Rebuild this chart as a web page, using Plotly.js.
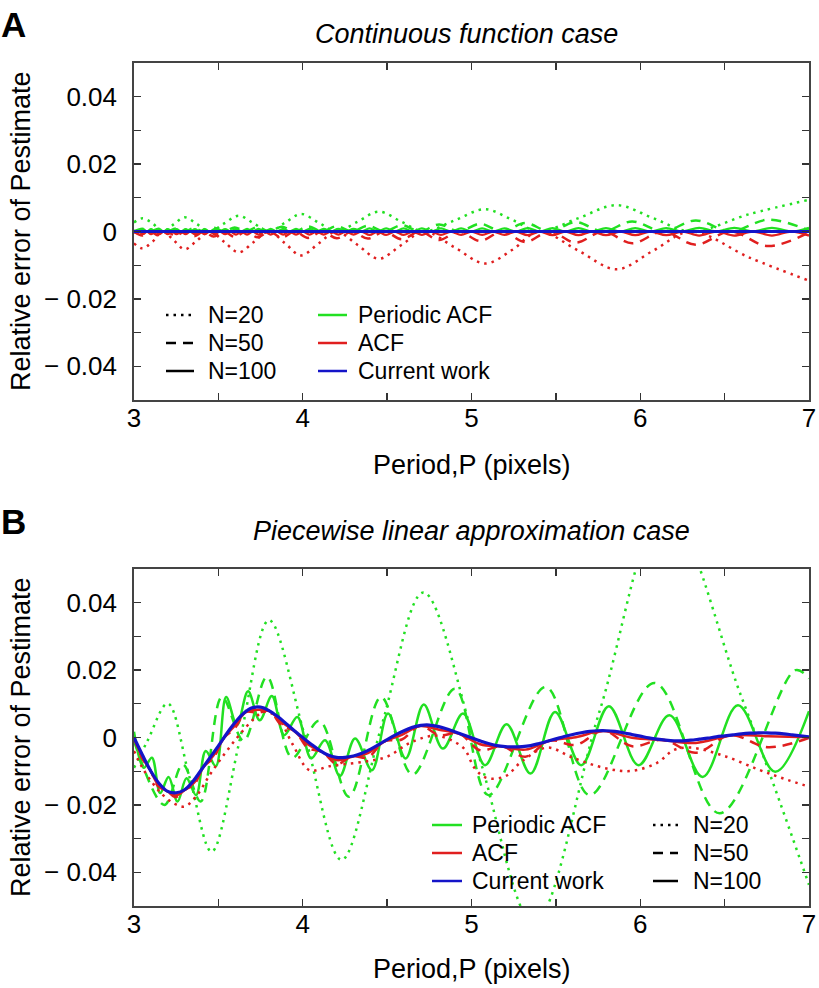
<!DOCTYPE html>
<html><head><meta charset="utf-8">
<script src="https://cdn.plot.ly/plotly-3.0.1.min.js"></script>
<style>html,body{margin:0;padding:0;background:#fff;}#chart{width:819px;height:988px;}</style>
</head><body><div id="chart"></div>
<script>
// ---------- ticks / labels ----------
const xTickVals = [3,3.5,4,4.5,5,5.5,6,6.5,7];
const xTickText = ['3','','4','','5','','6','','7'];
const yTickVals = [-0.04,-0.03,-0.02,-0.01,0,0.01,0.02,0.03,0.04];
const yTickText = ['\u2212 0.04','','\u2212 0.02','','0','','0.02','','0.04'];
const methodNames = ['Periodic ACF','ACF','Current work'];
const sizeNames = ['N=20','N=50','N=100'];
const panelTitles = ['Continuous function case','Piecewise linear approximation case'];
const panelLetters = ['A','B'];
const xTitle = 'Period,P (pixels)';
const yTitle = 'Relative error of Pestimate';

// ---------- panel A data ----------
const xA20 = [3.0,3.05,3.11,3.17,3.235,3.30,3.375,3.45,3.535,3.62,3.71,3.80,3.895,3.99,4.095,4.20,4.325,4.45,4.585,4.72,4.90,5.08,5.24,5.40,5.63,5.86,6.08,6.30,6.65,7.0];
const periodicA20 = [0.0027,0.0039,0.0024,0,0.0021,0.0042,0.0021,0,0.0024,0.0047,0.0024,0,0.0026,0.0052,0.0026,0,0.0029,0.0059,0.0029,0,0.0033,0.0066,0.0035,0,0.0039,0.0078,0.0039,0,0.0052,0.0094];
const acfA20 = [-0.0035,-0.0050,-0.0030,0,-0.0026,-0.0053,-0.0026,0,-0.0031,-0.0062,-0.0031,0,-0.0035,-0.0071,-0.0035,0,-0.0040,-0.0081,-0.0040,0,-0.0047,-0.0095,-0.0055,0,-0.0056,-0.0112,-0.0056,0,-0.0078,-0.0146];

const x50 = [3.000,3.049,3.096,3.145,3.195,3.247,3.300,3.356,3.413,3.472,3.534,3.597,3.663,3.731,3.802,3.876,3.953,4.032,4.115,4.202,4.292,4.386,4.484,4.587,4.695,4.808,4.926,5.051,5.181,5.319,5.464,5.618,5.780,5.952,6.135,6.329,6.536,6.757,7.000];
const periodicA50 = [0,0.0008,0,0.0008,0,0.0009,0,0.0010,0,0.0011,0,0.0012,0,0.0013,0,0.0014,0,0.0015,0,0.0016,0,0.0017,0,0.0019,0,0.0021,0,0.0023,0,0.0025,0,0.0028,0,0.0030,0,0.0033,0,0.0035,0.0003];
const acfA50 = [0,-0.0012,0,-0.0012,0,-0.0013,0,-0.0014,0,-0.0015,0,-0.0016,0,-0.0017,0,-0.0018,0,-0.0019,0,-0.0020,0,-0.0021,0,-0.0023,0,-0.0025,0,-0.0028,0,-0.0031,0,-0.0033,0,-0.0035,0,-0.0039,0,-0.0043,-0.0003];

const x100 = [3.000,3.030,3.053,3.077,3.101,3.125,3.150,3.175,3.200,3.226,3.252,3.279,3.306,3.333,3.361,3.390,3.419,3.448,3.478,3.509,3.540,3.571,3.604,3.636,3.670,3.704,3.738,3.774,3.810,3.846,3.884,3.922,3.960,4.000,4.040,4.082,4.124,4.167,4.211,4.255,4.301,4.348,4.396,4.444,4.494,4.545,4.598,4.651,4.706,4.762,4.819,4.878,4.938,5.000,5.063,5.128,5.195,5.263,5.333,5.405,5.480,5.556,5.634,5.714,5.797,5.882,5.970,6.061,6.154,6.250,6.349,6.452,6.557,6.667,6.780,6.897,7.000];
const periodicA100 = [0.0003,
 0,0.0007,0,0.0007,0,0.0007,0,0.0007,0,0.0007,0,0.0007,0,0.0007,0,0.0007,0,0.0007,0,0.0007,
 0,0.0008,0,0.0008,0,0.0008,0,0.0008,0,0.0008,0,0.0008,0,0.0008,0,0.0008,0,0.0008,0,0.0008,
 0,0.0009,0,0.0009,0,0.0009,0,0.0009,0,0.0009,0,0.0009,0,0.0009,0,0.0009,
 0,0.0010,0,0.0010,0,0.0010,0,0.0010,0,0.0010,0,0.0010,
 0,0.0011,0,0.0011,0,0.0011,0,0.0011];
const acfA100 = [-0.0004,
 0,-0.0008,0,-0.0008,0,-0.0008,0,-0.0008,0,-0.0008,0,-0.0008,0,-0.0008,0,-0.0008,0,-0.0008,0,-0.0008,
 0,-0.0009,0,-0.0009,0,-0.0009,0,-0.0009,0,-0.0009,0,-0.0009,0,-0.0009,0,-0.0009,0,-0.0009,0,-0.0009,
 0,-0.0010,0,-0.0010,0,-0.0010,0,-0.0010,0,-0.0010,0,-0.0010,0,-0.0010,0,-0.0010,
 0,-0.0011,0,-0.0011,0,-0.0011,0,-0.0011,0,-0.0011,0,-0.0011,
 0,-0.0012,0,-0.0012,0,-0.0012,0,-0.0012];
const xCurrentA = [3,7];
const currentA = [0,0];

// ---------- panel B data ----------
const xB20periodic = [3.000,3.080,3.200,3.330,3.460,3.630,3.800,4.015,4.230,4.470,4.715,5.040,5.370,5.760,6.150,6.600,7.000];
const periodicB20 = [-0.0090,-0.0010,0.0101,-0.0120,-0.0339,0.0000,0.0348,0.0000,-0.0363,0.0040,0.0430,-0.0050,-0.0550,0.0080,0.0680,0.0120,-0.0437];
const xB50periodic = [3.000,3.180,3.289,3.395,3.521,3.650,3.788,3.937,4.098,4.274,4.464,4.650,4.902,5.100,5.440,5.700,6.085,6.470,6.920,7.000];
const periodicB50 = [-0.0010,-0.0200,-0.0080,-0.0190,0.0120,-0.0010,0.0180,-0.0060,0.0050,-0.0176,0.0120,-0.0110,0.0145,-0.0171,0.0150,-0.0171,0.0162,-0.0225,0.0200,0.0175];
const xB100periodic = [3.000,3.058,3.106,3.155,3.205,3.258,3.311,3.368,3.425,3.485,3.546,3.610,3.676,3.745,3.817,3.890,3.968,4.050,4.132,4.220,4.310,4.410,4.505,4.610,4.717,4.830,4.950,5.080,5.208,5.350,5.495,5.650,5.814,5.990,6.173,6.370,6.579,6.800,7.000];
const periodicB100 = [0.0017,-0.0090,-0.0060,-0.0165,-0.0117,-0.0190,-0.0121,-0.0171,-0.0040,-0.0085,0.0120,0.0037,0.0137,0.0051,0.0123,0.0007,0.0061,-0.0062,-0.0008,-0.0114,-0.0003,-0.0097,0.0071,-0.0062,0.0098,-0.0033,0.0071,-0.0082,0.0039,-0.0107,0.0076,-0.0082,0.0093,-0.0082,0.0066,-0.0117,0.0096,-0.0102,0.0078];

const xB20acf = [3.00,3.05,3.11,3.17,3.235,3.30,3.375,3.45,3.535,3.62,3.71,3.77,3.85,3.94,4.04,4.16,4.36,4.50,4.62,4.72,4.80,4.95,5.02,5.09,5.20,5.30,5.45,5.60,5.80,5.95,6.10,6.20,6.30,6.50,6.70,6.85,7.00];
const acfB20 = [-0.0040,-0.0090,-0.0135,-0.0170,-0.0195,-0.0205,-0.0170,-0.0110,-0.0050,0.0005,0.0055,0.0076,0.0060,-0.0020,-0.0097,-0.0085,-0.0072,-0.0057,-0.0020,0.0000,0.0005,-0.0030,-0.0092,-0.0120,-0.0115,-0.0070,-0.0030,-0.0060,-0.0092,-0.0099,-0.0075,-0.0037,-0.0030,-0.0055,-0.0095,-0.0122,-0.0146];
const acfB50 = [0,-0.0063,-0.0096,-0.0146,-0.0158,-0.0177,-0.0155,-0.0140,-0.0086,-0.0060,0.0000,0.0027,0.0076,0.0073,0.0079,0.0035,0.0019,-0.0032,-0.0042,-0.0079,-0.0056,-0.0059,-0.0011,-0.0006,0.0035,0.0007,0.0012,-0.0038,-0.0026,-0.0057,-0.0009,-0.0022,0.0020,-0.0026,-0.0007,-0.0045,0.0007,-0.0029,-0.0001];
const acfB100 = [0,-0.0059,-0.0097,-0.0142,-0.0159,-0.0172,-0.0156,-0.0134,-0.0087,-0.0053,-0.0001,0.0035,0.0075,0.0082,0.0078,0.0045,0.0018,-0.0021,-0.0043,-0.0067,-0.0057,-0.0046,-0.0012,0.0008,0.0034,0.0023,0.0011,-0.0020,-0.0027,-0.0036,-0.0010,0.0001,0.0019,-0.0001,-0.0008,-0.0016,0.0006,0.0004,0.0001];

const xCurrentB = [3.00,3.05,3.10,3.15,3.20,3.25,3.30,3.35,3.40,3.45,3.50,3.55,3.60,3.65,3.70,3.75,3.80,3.85,3.90,3.95,4.00,4.05,4.10,4.15,4.20,4.25,4.30,4.35,4.40,4.45,4.50,4.55,4.60,4.65,4.70,4.75,4.80,4.85,4.90,4.95,5.00,5.05,5.10,5.15,5.20,5.25,5.30,5.35,5.40,5.45,5.50,5.55,5.60,5.65,5.70,5.75,5.80,5.85,5.90,5.95,6.00,6.05,6.10,6.15,6.20,6.25,6.30,6.35,6.40,6.45,6.50,6.55,6.60,6.65,6.70,6.75,6.80,6.85,6.90,6.95,7.00];
const currentB = [0.0000,-0.0052,-0.0100,-0.0137,-0.0160,-0.0164,-0.0155,-0.0130,-0.0095,-0.0060,-0.0025,0.0012,0.0045,0.0072,0.0088,0.0090,0.0080,0.0063,0.0042,0.0020,0.0000,-0.0020,-0.0038,-0.0052,-0.0059,-0.0059,-0.0055,-0.0047,-0.0035,-0.0021,-0.0006,0.0008,0.0020,0.0030,0.0036,0.0037,0.0033,0.0026,0.0017,0.0008,-0.0001,-0.0010,-0.0018,-0.0024,-0.0027,-0.0028,-0.0027,-0.0024,-0.0018,-0.0011,-0.0004,0.0003,0.0009,0.0014,0.0018,0.0020,0.0020,0.0018,0.0014,0.0009,0.0004,-0.0001,-0.0005,-0.0008,-0.0010,-0.0010,-0.0008,-0.0005,-0.0002,0.0002,0.0005,0.0008,0.0011,0.0013,0.0014,0.0014,0.0013,0.0011,0.0008,0.0005,0.0002];

// ---------- styling ----------
const GREEN = '#22e022', RED = '#e01f1f', BLUE = '#1414c8';
const DOT = '2.5px,5px', DASH = '10px,7px';
const FONT = 'Liberation Sans, Arial, sans-serif';

function line(x, y, color, dash, width, xa, ya, name) {
  return {type:'scatter', mode:'lines', x:x, y:y, name:name, xaxis:xa, yaxis:ya,
    line:{color:color, width:width, dash:dash, shape:'spline', smoothing:1}, hoverinfo:'skip', showlegend:false};
}

const traces = [
  line(xA20, periodicA20, GREEN, DOT, 2.5, 'x', 'y', 'Periodic ACF N=20'),
  line(x50, periodicA50, GREEN, DASH, 2.5, 'x', 'y', 'Periodic ACF N=50'),
  line(x100, periodicA100, GREEN, 'solid', 2.3, 'x', 'y', 'Periodic ACF N=100'),
  line(xA20, acfA20, RED, DOT, 2.5, 'x', 'y', 'ACF N=20'),
  line(x50, acfA50, RED, DASH, 2.5, 'x', 'y', 'ACF N=50'),
  line(x100, acfA100, RED, 'solid', 2.3, 'x', 'y', 'ACF N=100'),
  line(xCurrentA, currentA, BLUE, 'solid', 3, 'x', 'y', 'Current work'),

  line(xB20periodic, periodicB20, GREEN, DOT, 2.5, 'x2', 'y2', 'Periodic ACF N=20'),
  line(xB50periodic, periodicB50, GREEN, DASH, 2.5, 'x2', 'y2', 'Periodic ACF N=50'),
  line(xB100periodic, periodicB100, GREEN, 'solid', 2.5, 'x2', 'y2', 'Periodic ACF N=100'),
  line(xB20acf, acfB20, RED, DOT, 2.5, 'x2', 'y2', 'ACF N=20'),
  line(x50, acfB50, RED, DASH, 2.5, 'x2', 'y2', 'ACF N=50'),
  line(x50, acfB100, RED, 'solid', 2.5, 'x2', 'y2', 'ACF N=100'),
  line(xCurrentB, currentB, BLUE, 'solid', 3.2, 'x2', 'y2', 'Current work')
];

// pixel -> paper helpers (plot area: x 134..809, y 63..906)
const L = 134, R = 809, T = 63, B = 906;
const PX = p => (p - L) / (R - L);
const PY = p => (B - p) / (B - T);

function xaxis(anchor) {
  return {anchor:anchor, domain:[0,1], range:[3,7], tickmode:'array', tickvals:xTickVals, ticktext:xTickText,
    ticks:'inside', ticklen:7, tickwidth:1.3, tickcolor:'#333', showline:true, linecolor:'#444', linewidth:1.8,
    mirror:'ticks', showgrid:false, zeroline:false, tickfont:{family:FONT, size:26, color:'#000'}, ticklabelstandoff:-6};
}
function yaxis(anchor, domain) {
  return {anchor:anchor, domain:domain, range:[-0.05,0.05], tickmode:'array', tickvals:yTickVals, ticktext:yTickText,
    ticks:'inside', ticklen:7, tickwidth:1.3, tickcolor:'#333', showline:true, linecolor:'#444', linewidth:1.8,
    mirror:'ticks', showgrid:false, zeroline:false, tickfont:{family:FONT, size:26, color:'#000'}, ticklabelstandoff:10};
}

const ann = [];
function txt(text, px, py, opts) {
  ann.push(Object.assign({text:text, x:PX(px), y:PY(py), xref:'paper', yref:'paper', showarrow:false,
    xanchor:'left', yanchor:'middle', borderpad:0, font:{family:FONT, size:25, color:'#000'}}, opts||{}));
}
// panel letters & titles
txt('<b>'+panelLetters[0]+'</b>', 0, 24, {font:{family:FONT, size:35, color:'#000'}});
txt('<b>'+panelLetters[1]+'</b>', 0, 521, {font:{family:FONT, size:35, color:'#000'}});
txt(panelTitles[0], 466, 34, {xanchor:'center', font:{family:FONT, size:27, color:'#000', style:'italic'}});
txt(panelTitles[1], 471.5, 531, {xanchor:'center', font:{family:FONT, size:27, color:'#000', style:'italic'}});
txt(xTitle, 471.5, 465, {xanchor:'center', font:{family:FONT, size:27, color:'#000'}});
txt(xTitle, 471.5, 969, {xanchor:'center', font:{family:FONT, size:27, color:'#000'}});
txt(yTitle, 21, 231, {xanchor:'center', textangle:-90, font:{family:FONT, size:27, color:'#000'}});
txt(yTitle, 21, 737, {xanchor:'center', textangle:-90, font:{family:FONT, size:27, color:'#000'}});

// legends (text + sample lines)
const shapes = [];
function sample(x0, x1, py, color, dash) {
  shapes.push({type:'line', xref:'paper', yref:'paper', x0:PX(x0), x1:PX(x1), y0:PY(py), y1:PY(py),
    line:{color:color, width:2.5, dash:dash}});
}
const dashes = [DOT, DASH, 'solid'];
const colors = [GREEN, RED, BLUE];
const rowsA = [315, 343, 371];
const rowsB = [825, 853, 881];
const legendFont = {family:FONT, size:23, color:'#000'};
for (let i = 0; i < 3; i++) {
  // panel A: sizes left, methods right
  sample(166, 194, rowsA[i], '#000', dashes[i]);
  txt(sizeNames[i], 207, rowsA[i], {font:legendFont});
  sample(318, 347, rowsA[i], colors[i], 'solid');
  txt(methodNames[i], 357, rowsA[i], {font:legendFont});
  // panel B: methods left, sizes right
  sample(432, 462, rowsB[i], colors[i], 'solid');
  txt(methodNames[i], 471, rowsB[i], {font:legendFont});
  sample(653, 678, rowsB[i], '#000', dashes[i]);
  txt(sizeNames[i], 692, rowsB[i], {font:legendFont});
}

const layout = {
  width:819, height:988, margin:{l:L, r:819-R, t:T, b:988-B},
  paper_bgcolor:'#fff', plot_bgcolor:'#fff', showlegend:false,
  font:{family:FONT, color:'#000'},
  xaxis:xaxis('y'), yaxis:yaxis('x', [PY(400), 1]),
  xaxis2:xaxis('y2'), yaxis2:yaxis('x2', [0, PY(569)]),
  annotations:ann, shapes:shapes
};
Plotly.newPlot('chart', traces, layout, {staticPlot:true});
</script></body></html>
